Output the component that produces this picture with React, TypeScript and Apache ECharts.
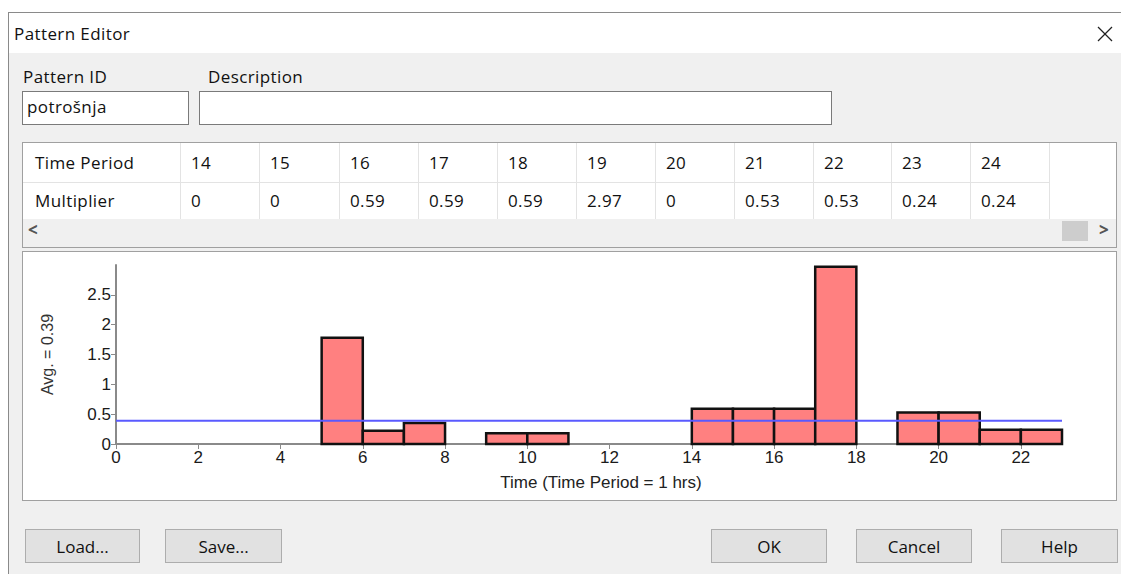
import React, { useEffect, useRef } from "react";
import * as echarts from "echarts";

// ---- data ----
const TABLE_PERIODS = ["14", "15", "16", "17", "18", "19", "20", "21", "22", "23", "24"];
const TABLE_MULTIPLIERS = ["0", "0", "0.59", "0.59", "0.59", "2.97", "0", "0.53", "0.53", "0.24", "0.24"];
// chart: slot i spans hours [i, i+1]
const SLOT_MULTIPLIERS = [0, 0, 0, 0, 0, 1.78, 0.22, 0.35, 0, 0.18, 0.18, 0, 0, 0, 0.59, 0.59, 0.59, 2.97, 0, 0.53, 0.53, 0.24, 0.24];
const AVERAGE = 0.39;
const X_TICKS = [0, 2, 4, 6, 8, 10, 12, 14, 16, 18, 20, 22];
const Y_TICKS = [0, 0.5, 1, 1.5, 2, 2.5];
const X_MAX = 23;
const Y_MAX = 3;

const UI_FONT = "'Segoe UI', 'Open Sans', 'Noto Sans', sans-serif";
const CHART_FONT = "'Liberation Sans', Arial, sans-serif";

function Chart() {
  const ref = useRef<HTMLDivElement>(null);
  useEffect(() => {
    if (!ref.current) return;
    const chart = echarts.init(ref.current, undefined, { renderer: "svg" });
    const bars = SLOT_MULTIPLIERS.map((v, i) => [i, i + 1, v]).filter((d) => d[2] > 0);
    chart.setOption({
      animation: false,
      grid: { left: 93, right: 54, top: 13, bottom: 56 },
      xAxis: {
        type: "value",
        min: 0,
        max: X_MAX,
        name: "Time (Time Period = 1 hrs)",
        nameLocation: "middle",
        nameGap: 30,
        nameTextStyle: { fontFamily: CHART_FONT, fontSize: 17, color: "#222", padding: [0, 0, 0, 24] },
        axisLine: { show: true, lineStyle: { color: "#8a8a8a", width: 2 } },
        axisTick: { show: true, length: 5, lineStyle: { color: "#8a8a8a" }, customValues: X_TICKS },
        axisLabel: { customValues: X_TICKS, fontFamily: CHART_FONT, fontSize: 17, color: "#1a1a1a", margin: 5 },
        splitLine: { show: false },
      },
      yAxis: {
        type: "value",
        min: 0,
        max: Y_MAX,
        name: "Avg. = " + AVERAGE.toFixed(2),
        nameLocation: "middle",
        nameGap: 61,
        nameRotate: 90,
        nameTextStyle: { fontFamily: CHART_FONT, fontSize: 16, color: "#333" },
        axisLine: { show: true, lineStyle: { color: "#8a8a8a", width: 2 } },
        axisTick: { show: true, length: 5, lineStyle: { color: "#8a8a8a" }, customValues: Y_TICKS },
        axisLabel: { customValues: Y_TICKS, fontFamily: CHART_FONT, fontSize: 17, color: "#1a1a1a", margin: 5 },
        splitLine: { show: false },
      },
      series: [
        {
          type: "custom",
          data: bars,
          encode: { x: [0, 1], y: 2 },
          renderItem: (params: any, api: any) => {
            const s = api.coord([api.value(0), api.value(2)]);
            const e = api.coord([api.value(1), 0]);
            return {
              type: "rect",
              shape: { x: s[0], y: s[1], width: e[0] - s[0], height: e[1] - s[1] },
              style: { fill: "#ff8080", stroke: "#111", lineWidth: 2.5 },
            };
          },
        },
        {
          type: "line",
          data: [
            [0, AVERAGE],
            [X_MAX, AVERAGE],
          ],
          showSymbol: false,
          lineStyle: { color: "#5a5aff", width: 2 },
          z: 5,
        },
      ],
    });
    return () => chart.dispose();
  }, []);
  return <div ref={ref} style={{ width: "100%", height: "100%" }} />;
}

const abs = (l: number, t: number, w: number, h: number): React.CSSProperties => ({
  position: "absolute",
  left: l,
  top: t,
  width: w,
  height: h,
  boxSizing: "border-box",
});

const TXT: React.CSSProperties = { fontSize: 17, letterSpacing: 0.4, color: "#111", whiteSpace: "nowrap" };
const CELL: React.CSSProperties = { ...TXT, fontWeight: 500, lineHeight: "24px" };

const COL_X = [180, 259, 339, 418, 497, 576, 655, 734, 813, 891, 970, 1049];

function Button({ x, w, label }: { x: number; w: number; label: string }) {
  return (
    <div
      style={{
        ...abs(x, 529, w, 34),
        ...TXT,
        letterSpacing: 0,
        background: "#e1e1e1",
        border: "1px solid #adadad",
        display: "flex",
        alignItems: "center",
        justifyContent: "center",
      }}
    >
      {label}
    </div>
  );
}

export default function App() {
  return (
    <div
      style={{
        position: "fixed",
        left: 0,
        top: 0,
        width: 1121,
        height: 574,
        background: "#ffffff",
        fontFamily: UI_FONT,
        overflow: "hidden",
      }}
    >
      {/* dialog frame */}
      <div style={{ ...abs(8, 12, 1120, 570), border: "1px solid #8a8a8a", background: "#f0f0f0" }} />
      {/* title bar */}
      <div style={{ ...abs(9, 13, 1112, 40), background: "#ffffff" }} />
      <div style={{ ...abs(14, 22, 300, 24), ...TXT, lineHeight: "24px" }}>Pattern Editor</div>
      <svg style={abs(1097, 26, 16, 16)} width={16} height={16}>
        <line x1={1} y1={1} x2={15} y2={15} stroke="#222" strokeWidth={1.2} />
        <line x1={15} y1={1} x2={1} y2={15} stroke="#222" strokeWidth={1.2} />
      </svg>

      {/* labels & inputs */}
      <div style={{ ...abs(23, 65, 160, 24), ...TXT, lineHeight: "24px" }}>Pattern ID</div>
      <div style={{ ...abs(208, 65, 200, 24), ...TXT, lineHeight: "24px" }}>Description</div>
      <div
        style={{
          ...abs(22, 91, 167, 34),
          ...TXT,
          background: "#fff",
          border: "1px solid #7a7a7a",
          lineHeight: "30px",
          paddingLeft: 4,
        }}
      >
        potrošnja
      </div>
      <div style={{ ...abs(199, 91, 633, 34), background: "#fff", border: "1px solid #7a7a7a" }} />

      {/* grid table */}
      <div style={{ ...abs(22, 142, 1095, 106), border: "1px solid #a0a0a0", background: "#f0f0f0" }} />
      <div style={{ ...abs(23, 143, 1093, 76), background: "#fff" }} />
      <div style={{ ...abs(23, 182, 1026, 1), background: "#e3e3e3" }} />
      {COL_X.map((x) => (
        <div key={x} style={{ ...abs(x, 143, 1, 76), background: "#e3e3e3" }} />
      ))}
      <div style={{ ...abs(35, 151, 140, 24), ...CELL }}>Time Period</div>
      <div style={{ ...abs(35, 189, 140, 24), ...CELL }}>Multiplier</div>
      {TABLE_PERIODS.map((p, i) => (
        <div key={"p" + p} style={{ ...abs(COL_X[i] + 11, 151, 66, 24), ...CELL }}>
          {p}
        </div>
      ))}
      {TABLE_MULTIPLIERS.map((m, i) => (
        <div key={"m" + i} style={{ ...abs(COL_X[i] + 11, 189, 66, 24), ...CELL }}>
          {m}
        </div>
      ))}
      {/* scrollbar */}
      <div style={{ ...abs(28, 218, 20, 24), fontSize: 17, fontWeight: 700, color: "#555", lineHeight: "24px" }}>&lt;</div>
      <div style={{ ...abs(1062, 221, 26, 20), background: "#cdcdcd" }} />
      <div style={{ ...abs(1099, 218, 16, 24), fontSize: 17, fontWeight: 700, color: "#555", lineHeight: "24px" }}>&gt;</div>

      {/* chart */}
      <div style={{ ...abs(22, 251, 1095, 250), border: "1px solid #a0a0a0", background: "#fff" }}>
        <Chart />
      </div>

      {/* buttons */}
      <Button x={25} w={115} label="Load..." />
      <Button x={165} w={117} label="Save..." />
      <Button x={711} w={116} label="OK" />
      <Button x={856} w={116} label="Cancel" />
      <Button x={1001} w={117} label="Help" />
    </div>
  );
}
